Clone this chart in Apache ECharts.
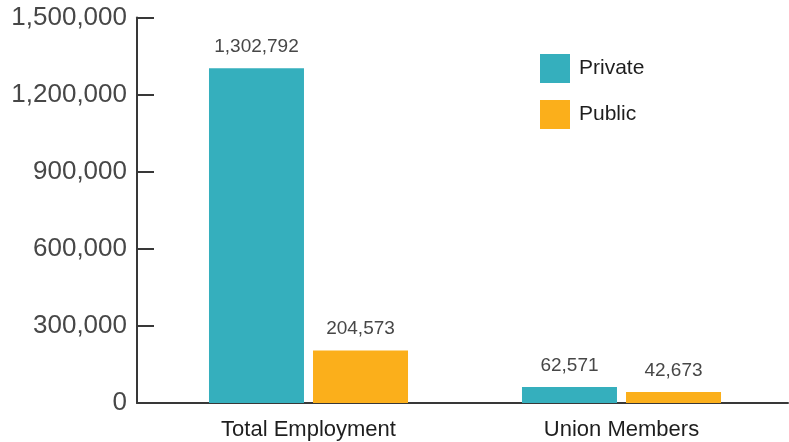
<!DOCTYPE html>
<html>
<head>
<meta charset="utf-8">
<script src="https://cdn.jsdelivr.net/npm/echarts@6/dist/echarts.min.js"></script>
<style>
html,body{margin:0;padding:0;background:#fff;}
#c{width:789px;height:442px;}
</style>
</head>
<body>
<div id="c"></div>
<script>
const categories = ['Total Employment', 'Union Members'];
const privateValues = [1302792, 62571];
const publicValues = [204573, 42673];
const seriesNames = ['Private', 'Public'];
const yTicks = [0, 300000, 600000, 900000, 1200000, 1500000];

const FONT = '"Liberation Sans", Arial, Helvetica, sans-serif';
const fmt = v => Number(v).toLocaleString('en-US');
const axisColor = '#383838';

const chart = echarts.init(document.getElementById('c'), null, {renderer: 'canvas'});
const labelStyle = {
  show: true, position: 'top', distance: 12,
  color: '#474747', fontSize: 19, fontFamily: FONT,
  formatter: p => fmt(p.value)
};
chart.setOption({
  animation: false,
  backgroundColor: '#ffffff',
  textStyle: {fontFamily: FONT},
  legend: {
    orient: 'vertical', left: 540, top: 54, padding: 0,
    itemWidth: 30, itemHeight: 29, itemGap: 17,
    icon: 'rect',
    textStyle: {color: '#1e1e1e', fontSize: 21, fontFamily: FONT, padding: [0, 0, 0, 4]},
    data: seriesNames
  },
  grid: [
    {left: 152, right: 11, top: 17.5, bottom: 39, containLabel: false},
    {left: 137, right: 1, top: 17.5, bottom: 39, containLabel: false}
  ],
  xAxis: [
    {
      type: 'category', gridIndex: 0, data: categories,
      axisLine: {show: false},
      axisTick: {show: false},
      axisLabel: {color: '#1e1e1e', fontSize: 22, fontFamily: FONT, margin: 16},
      splitLine: {show: false}
    },
    {
      type: 'value', gridIndex: 1, min: 0, max: 1,
      axisLine: {show: true, lineStyle: {color: axisColor, width: 2}},
      axisTick: {show: false}, axisLabel: {show: false}, splitLine: {show: false}
    }
  ],
  yAxis: [
    {
      type: 'value', gridIndex: 0, min: yTicks[0], max: yTicks[yTicks.length - 1],
      interval: yTicks[1] - yTicks[0], offset: 15,
      axisLine: {show: true, lineStyle: {color: axisColor, width: 2}},
      axisTick: {show: true, inside: true, length: 17, lineStyle: {color: axisColor, width: 2}},
      axisLabel: {color: '#474747', fontSize: 26, fontFamily: FONT, margin: 10, formatter: v => fmt(v)},
      splitLine: {show: false}
    },
    {
      type: 'value', gridIndex: 1, show: false
    }
  ],
  series: [
    {
      name: seriesNames[0], type: 'bar', xAxisIndex: 0, yAxisIndex: 0,
      data: privateValues, barWidth: 95, barGap: '9.5%',
      itemStyle: {color: '#35afbd'}, label: labelStyle
    },
    {
      name: seriesNames[1], type: 'bar', xAxisIndex: 0, yAxisIndex: 0,
      data: publicValues, barWidth: 95, barGap: '9.5%',
      itemStyle: {color: '#fbaf1b'}, label: labelStyle
    }
  ]
});
</script>
</body>
</html>
